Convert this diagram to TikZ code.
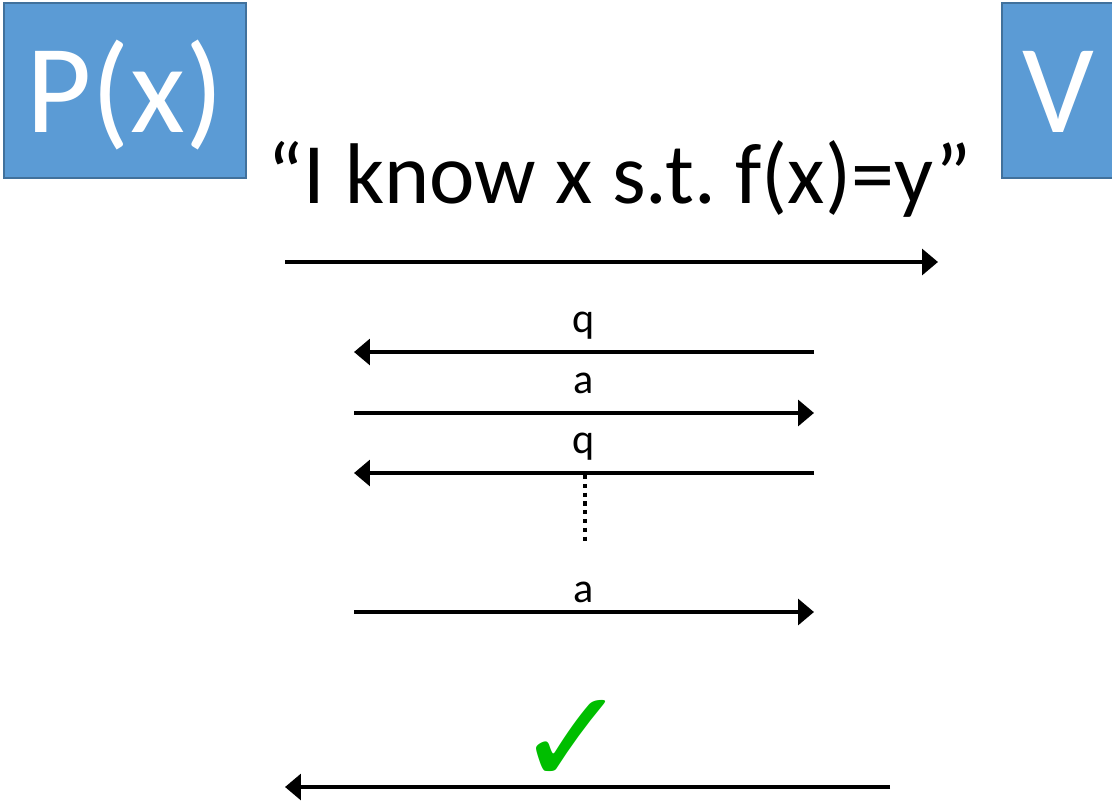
\documentclass[tikz,border=0pt]{standalone}
\usepackage{fontspec}
\setmainfont{Carlito}
\newfontfamily\checkfont{DejaVu Sans}
\usetikzlibrary{arrows.meta,positioning}
\definecolor{boxfill}{RGB}{91,155,213}
\definecolor{boxrule}{RGB}{65,113,156}
\definecolor{okgreen}{RGB}{0,190,0}
\tikzset{
  party/.style={fill=boxfill,draw=boxrule,line width=1.4pt,
    minimum height=3.5cm,inner sep=0pt,text=white,
    text height=48pt,text depth=0pt,font=\fontsize{72}{72}\selectfont},
  msg/.style={line width=2.7pt,-{Triangle[length=9pt,width=14.5pt]}},
  msglabel/.style={font=\fontsize{24}{24}\selectfont,anchor=base,
    inner sep=0pt,yshift=11.3pt},
  claim/.style={font=\fontsize{49}{49}\selectfont\frenchspacing,anchor=base,inner sep=0pt},
  ellip/.style={line width=2.5pt,dash pattern=on 2.4pt off 2.6pt}
}

\begin{document}
\begin{tikzpicture}[x=0.02cm,y=-0.02cm]
  \useasboundingbox (0,0) rectangle (1112,801);

  \node[party,minimum width=4.84cm] (prover) at (125,90.5) {P(x)};
  \node[party,minimum width=2.26cm] (verifier) at (1058.5,90.5) {V};
  \node[claim] (statement) at (620,203) {“I know x s.t. f(x)=y”};

  % message ends
  \coordinate (claimL) at (285,262);
  \coordinate (claimR) at (938,262);
  \coordinate (q1L) at (354,352);
  \coordinate (q1R) at (814,352);
  \coordinate (a1L) at (354,413);
  \coordinate (a1R) at (814,413);
  \coordinate (q2L) at (354,473);
  \coordinate (q2R) at (814,473);
  \coordinate (dotsT) at (585,475);
  \coordinate (dotsB) at (585,545);
  \coordinate (a2L) at (354,612);
  \coordinate (a2R) at (814,612);
  \coordinate (okL) at (285,787);
  \coordinate (okR) at (890,787);

  \draw[msg] (claimL) -- (claimR);
  \draw[msg] (q1R) -- node[msglabel] {q} (q1L);
  \draw[msg] (a1L) -- node[msglabel] {a} (a1R);
  \draw[msg] (q2R) -- node[msglabel] {q} (q2L);
  \draw[ellip] (dotsT) -- (dotsB);
  \draw[msg] (a2L) -- node[msglabel,yshift=-5.7pt] {a} (a2R);
  \draw[msg] (okR) -- (okL);

  \node[font=\checkfont\fontsize{76}{76}\selectfont,text=okgreen,inner sep=0pt]
    (accept) at (572,742) {✓};
\end{tikzpicture}
\end{document}
